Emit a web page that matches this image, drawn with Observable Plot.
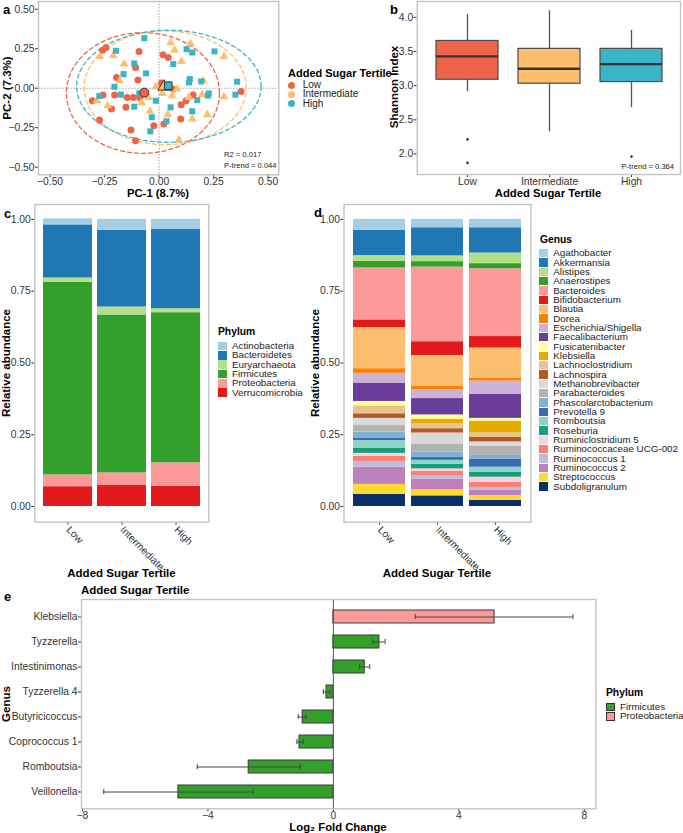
<!DOCTYPE html>
<html><head><meta charset="utf-8">
<script src="https://cdn.jsdelivr.net/npm/d3@7"></script>
<script src="https://cdn.jsdelivr.net/npm/@observablehq/plot@0.6"></script>
<style>
body{margin:0;background:#fff;}
#root{position:relative;width:683px;height:833px;overflow:hidden;font-family:"Liberation Sans",Arial,sans-serif;background:#fff;}
.t{position:absolute;white-space:nowrap;line-height:1;color:#000;}
.t.tight{line-height:0.85;}
.sw{position:absolute;}
</style></head><body><div id="root"></div>
<script>
// ---------- DATA ----------
const groups = ["Low", "Intermediate", "High"];
const groupColors = ["#EF6449", "#FDBF6F", "#3AB5C6"];

// Panel a: PCoA points (PC-1, PC-2)
const lowPts = [[-0.243,0.258],[-0.259,0.241],[-0.092,0.233],[0.018,0.212],[0.042,0.195],[-0.108,0.132],[-0.195,0.068],[-0.097,0.052],[0.011,0.033],[0.063,-0.005],[-0.306,-0.079],[-0.257,-0.043],[-0.204,-0.043],[-0.146,-0.058],[-0.118,-0.058],[-0.088,-0.060],[-0.218,-0.132],[-0.152,-0.121],[-0.273,-0.201],[-0.129,-0.264],[-0.108,-0.332],[-0.024,-0.237],[0.022,-0.226],[0.099,-0.195],[0.101,-0.104],[0.124,-0.079],[0.156,-0.043],[0.376,-0.020]];
const interPts = [[-0.272,0.201],[-0.211,0.207],[-0.161,0.153],[-0.181,0.047],[-0.285,-0.079],[-0.236,-0.111],[-0.080,-0.092],[-0.048,-0.058],[-0.042,-0.146],[-0.015,0.009],[0.053,0.289],[0.144,0.283],[0.071,0.241],[0.102,0.169],[0.297,0.201],[0.025,0.009],[0.083,-0.005],[0.015,-0.033],[0.060,-0.047],[0.198,-0.041],[0.297,-0.054],[0.137,-0.058],[0.040,-0.167],[0.152,-0.195],[0.221,-0.167],[0.091,-0.327],[0.202,0.047]];
const highPts = [[-0.068,0.317],[-0.198,0.237],[-0.114,0.157],[-0.163,0.089],[-0.060,0.094],[-0.205,0.009],[-0.274,-0.049],[-0.175,-0.041],[-0.091,-0.033],[-0.114,-0.117],[-0.015,-0.079],[-0.033,-0.184],[-0.040,-0.273],[0.126,0.247],[0.152,0.226],[0.254,0.233],[0.065,0.153],[0.141,0.058],[0.137,0.037],[0.193,0.043],[0.358,0.041],[0.175,-0.075],[0.228,-0.033],[0.224,-0.047],[0.350,-0.041],[0.053,-0.121],[0.152,-0.146],[0.034,-0.209]];
const centroids = [[-0.068,-0.028],[0.022,0.010],[0.042,0.016]];
// ellipse: centre x, centre y, radius x, radius y
const ellipseParams = [[-0.074,-0.030,0.351,0.382],[0.028,0.003,0.372,0.360],[0.045,0.012,0.423,0.355]];
const pcaTicks = [-0.5,-0.25,0,0.25,0.5];

// Panel b: Shannon index boxplot summary
const bxLo = [2.913, 2.325, 2.680];
const bxQ1 = [3.087, 3.029, 3.053];
const bxMed = [3.430, 3.248, 3.316];
const bxQ3 = [3.655, 3.539, 3.539];
const bxHi = [4.040, 4.097, 3.810];
const outGroup = ["Low", "Low", "High"];
const outValue = [2.214, 1.869, 1.961];
const shannonTicks = [2.0, 2.5, 3.0, 3.5, 4.0];

// Panel c: phylum relative abundance
const phyla = ["Actinobacteria","Bacteroidetes","Euryarchaeota","Firmicutes","Proteobacteria","Verrucomicrobia"];
const phylumColors = ["#A6CEE3","#1F78B4","#B2DF8A","#33A02C","#FB9A99","#E31A1C"];
const phylumLow = [0.021,0.185,0.015,0.671,0.041,0.069];
const phylumInter = [0.038,0.267,0.028,0.550,0.044,0.073];
const phylumHigh = [0.035,0.276,0.014,0.523,0.082,0.070];

// Panel d: genus relative abundance
const genera = ["Agathobacter","Akkermansia","Alistipes","Anaerostipes","Bacteroides","Bifidobacterium","Blautia","Dorea","Escherichia/Shigella","Faecalibacterium","Fusicatenibacter","Klebsiella","Lachnoclostridium","Lachnospira","Methanobrevibacter","Parabacteroides","Phascolarctobacterium","Prevotella 9","Romboutsia","Roseburia","Ruminiclostridium 5","Ruminococcaceae UCG-002","Ruminococcus 1","Ruminococcus 2","Streptococcus","Subdoligranulum"];
const genusColors = ["#A6CEE3","#1F78B4","#B2DF8A","#33A02C","#FB9A99","#E31A1C","#FDBF6F","#FF7F00","#CAB2D6","#6A3D9A","#FFFF99","#E6AB02","#E5C494","#B15928","#D9D9D9","#B3B3B3","#80B1D3","#386CB0","#8DD3C7","#1B9E77","#FCCDE5","#FB8072","#BEBADA","#BC80BD","#FFD92F","#08306B"];
const genusLow = [0.038,0.088,0.020,0.023,0.181,0.027,0.143,0.016,0.034,0.064,0.016,0.003,0.024,0.016,0.025,0.023,0.022,0.007,0.028,0.017,0.010,0.018,0.020,0.060,0.035,0.042];
const genusInter = [0.029,0.098,0.020,0.019,0.260,0.048,0.108,0.011,0.031,0.057,0.016,0.014,0.018,0.015,0.038,0.029,0.018,0.010,0.014,0.016,0.009,0.016,0.011,0.037,0.021,0.037];
const genusHigh = [0.029,0.088,0.037,0.018,0.236,0.040,0.106,0.009,0.046,0.084,0.010,0.041,0.014,0.017,0.016,0.031,0.013,0.028,0.017,0.018,0.018,0.018,0.009,0.019,0.017,0.021];
const abundTicks = [0, 0.25, 0.5, 0.75, 1];

// Panel e: differential abundance
const deGenus = ["Klebsiella","Tyzzerella","Intestinimonas","Tyzzerella 4","Butyricicoccus","Coprococcus 1","Romboutsia","Veillonella"];
const dePhylum = ["Proteobacteria","Firmicutes","Firmicutes","Firmicutes","Firmicutes","Firmicutes","Firmicutes","Firmicutes"];
const deLFC = [5.14, 1.47, 1.00, -0.22, -0.98, -1.08, -2.70, -4.94];
const deLo = [2.61, 1.26, 0.84, -0.32, -1.12, -1.16, -4.34, -7.32];
const deHi = [7.64, 1.65, 1.16, -0.11, -0.87, -0.96, -1.05, -2.56];
const dePhyla = ["Firmicutes","Proteobacteria"];
const dePhylaColors = ["#33A02C","#FB9A99"];
const lfcTicks = [-8,-4,0,4,8];

// ---------- HELPERS ----------
const root = document.getElementById("root");
const FONT = '"Liberation Sans", Arial, sans-serif';
const baseStyle = {background:"transparent", fontFamily:FONT, fontSize:"10.3px", color:"#333", overflow:"visible"};
function place(svg, left, top){ svg.style.position="absolute"; svg.style.left=left+"px"; svg.style.top=top+"px"; root.appendChild(svg); }
function txt(s, x, y, o={}){
  const d=document.createElement("div"); d.className="t"+(o.tight?" tight":"");
  d.textContent=s;
  d.style.fontSize=(o.size||10)+"px";
  if(o.bold) d.style.fontWeight="bold";
  d.style.color=o.color||"#000";
  d.style.left=x+"px"; d.style.top=y+"px";
  const a=o.anchor||"start";
  const tx=a==="start"?"0%":a==="middle"?"-50%":"-100%";
  d.style.transform=`translate(${tx},-50%)`+(o.rotate?` rotate(${o.rotate}deg)`:"");
  root.appendChild(d); return d;
}
function swatch(x,y,w,h,color,stroke){
  const d=document.createElement("div"); d.className="sw";
  d.style.left=x+"px"; d.style.top=(y-h/2)+"px"; d.style.width=w+"px"; d.style.height=h+"px";
  d.style.background=color; d.style.boxSizing="border-box";
  if(stroke) d.style.border="1px solid "+stroke;
  root.appendChild(d);
}

// ---------- PANEL A ----------
const pcaData=[];
[lowPts,interPts,highPts].forEach((pts,i)=>pts.forEach(([x,y])=>pcaData.push({x,y,g:groups[i]})));
const centData=centroids.map(([x,y],i)=>({x,y,g:groups[i]}));
const ellData=[];
ellipseParams.forEach(([cx,cy,rx,ry],i)=>{for(let k=0;k<=144;k++){const t=k/144*2*Math.PI; ellData.push({x:cx+rx*Math.cos(t),y:cy+ry*Math.sin(t),g:groups[i]});}});
const f2=d3.format(".2f");
const pa=Plot.plot({
  width:283,height:200,marginLeft:38,marginRight:4.7,marginTop:1,marginBottom:25.7,
  style:baseStyle,
  x:{domain:[-0.553,0.549],ticks:pcaTicks,tickFormat:f2,label:null,tickSize:3,tickPadding:0},
  y:{domain:[-0.548,0.549],ticks:pcaTicks,tickFormat:f2,label:null,tickSize:3,tickPadding:1},
  color:{domain:groups,range:groupColors},
  marks:[
    Plot.ruleX([0],{stroke:"#aaa",strokeDasharray:"1.5,1.5",strokeWidth:1.1}),
    Plot.ruleY([0],{stroke:"#aaa",strokeDasharray:"1.5,1.5",strokeWidth:1.1}),
    Plot.line(ellData,{x:"x",y:"y",z:"g",stroke:"g",strokeDasharray:"4,3",strokeWidth:1.3}),
    Plot.dot(pcaData.filter(d=>d.g==="Low"),{x:"x",y:"y",fill:"g",r:3.5,symbol:"circle"}),
    Plot.dot(pcaData.filter(d=>d.g==="Intermediate"),{x:"x",y:"y",fill:"g",r:3.3,symbol:"triangle"}),
    Plot.dot(pcaData.filter(d=>d.g==="High"),{x:"x",y:"y",fill:"g",r:3.4,symbol:"square"}),
    Plot.dot(centData.filter(d=>d.g==="Low"),{x:"x",y:"y",fill:"g",r:4.5,symbol:"circle",stroke:"#333",strokeWidth:1}),
    Plot.dot(centData.filter(d=>d.g==="Intermediate"),{x:"x",y:"y",fill:"g",r:4.5,symbol:"triangle",stroke:"#333",strokeWidth:1}),
    Plot.dot(centData.filter(d=>d.g==="High"),{x:"x",y:"y",fill:"g",r:4.3,symbol:"square",stroke:"#333",strokeWidth:1}),
    Plot.frame({stroke:"#c4c4c4",strokeWidth:1.4})
  ]
});
place(pa,0,0);
txt("a",3,9,{size:13,bold:true});
txt("PC-1 (8.7%)",158,194,{size:11.3,bold:true,anchor:"middle"});
txt("PC-2 (7.3%)",8,88,{size:11.5,bold:true,anchor:"middle",rotate:-90});
txt("R2 = 0.017",224,155,{size:7.6,color:"#222",tight:true});
txt("P-trend = 0.044",224,166,{size:7.6,color:"#222",tight:true});
txt("Added Sugar Tertile",288,72.5,{size:11,bold:true});
groups.forEach((g,i)=>{
  const y=85.3+i*9.1;
  const dot=document.createElement("div"); dot.className="sw";
  dot.style.left=(291.7-3.5)+"px"; dot.style.top=(y-3.5)+"px"; dot.style.width="7px"; dot.style.height="7px";
  dot.style.borderRadius="50%"; dot.style.background=groupColors[i]; root.appendChild(dot);
  txt(g,302.7,y,{size:10,color:"#222",tight:true});
});

// ---------- PANEL B ----------
const boxData=groups.map((g,i)=>({g,lo:bxLo[i],q1:bxQ1[i],med:bxMed[i],q3:bxQ3[i],hi:bxHi[i]}));
const outData=outGroup.map((g,i)=>({g,v:outValue[i]}));
const pb=Plot.plot({
  width:343,height:200,marginLeft:76.7,marginRight:3,marginTop:1,marginBottom:26,
  style:baseStyle,
  x:{domain:groups,paddingInner:0.25,paddingOuter:0.225,label:null,tickSize:3,tickPadding:0},
  y:{domain:[1.699,4.233],ticks:shannonTicks,tickFormat:d3.format(".1f"),label:null,tickSize:3,tickPadding:1},
  color:{domain:groups,range:groupColors},
  marks:[
    Plot.ruleX(boxData,{x:"g",y1:"lo",y2:"hi",stroke:"#555",strokeWidth:1.3}),
    Plot.barY(boxData,{x:"g",y1:"q1",y2:"q3",fill:"g",stroke:"#4a4a4a",strokeWidth:1.2}),
    Plot.tickY(boxData,{x:"g",y:"med",stroke:"#333",strokeWidth:2.3}),
    Plot.dot(outData,{x:"g",y:"v",r:1.3,fill:"#333"}),
    Plot.frame({stroke:"#c4c4c4",strokeWidth:1.4})
  ]
});
place(pb,340,0);
txt("b",390,9,{size:13,bold:true});
txt("Shannon Index",395,87,{size:11.5,bold:true,anchor:"middle",rotate:-90});
txt("Added Sugar Tertile",548,194,{size:11.3,bold:true,anchor:"middle"});
txt("P-trend = 0.364",621.5,167,{size:7.6,color:"#222",tight:true});

// ---------- PANEL C ----------
const phyData=[];
const phyVals=[phylumLow,phylumInter,phylumHigh];
groups.forEach((g,gi)=>{for(let k=phyla.length-1;k>=0;k--) phyData.push({g,p:phyla[k],v:phyVals[gi][k]});});
const pc=Plot.plot({
  width:215,height:380,marginLeft:34.3,marginRight:6.7,marginTop:4,marginBottom:58.3,
  style:baseStyle,
  x:{domain:groups,paddingInner:0.1,paddingOuter:0.15,label:null,tickSize:3,tickPadding:3,tickRotate:45},
  y:{domain:[-0.0547,1.052],ticks:abundTicks,tickFormat:f2,label:null,tickSize:3,tickPadding:1},
  color:{domain:phyla,range:phylumColors},
  marks:[
    Plot.barY(phyData,{x:"g",y:"v",fill:"p"}),
    Plot.frame({stroke:"#c4c4c4",strokeWidth:1.4})
  ]
});
place(pc,0,200);
txt("c",4,212.5,{size:13,bold:true});
txt("Relative abundance",7,363,{size:11.5,bold:true,anchor:"middle",rotate:-90});
txt("Added Sugar Tertile",121.5,574,{size:11.5,bold:true,anchor:"middle"});
txt("Phylum",218,332,{size:10.3,bold:true});
phyla.forEach((p,i)=>{const y=346+i*9.33; swatch(218,y,9,8.6,phylumColors[i]); txt(p,232,y,{size:9.8,color:"#222",tight:true});});

// ---------- PANEL D ----------
const genData=[];
const genVals=[genusLow,genusInter,genusHigh];
groups.forEach((g,gi)=>{for(let k=genera.length-1;k>=0;k--) genData.push({g,p:genera[k],v:genVals[gi][k]});});
const pd=Plot.plot({
  width:235,height:380,marginLeft:43.5,marginRight:4.5,marginTop:4,marginBottom:58.3,
  style:baseStyle,
  x:{domain:groups,paddingInner:0.1,paddingOuter:0.15,label:null,tickSize:3,tickPadding:3,tickRotate:45},
  y:{domain:[-0.0547,1.052],ticks:abundTicks,tickFormat:f2,label:null,tickSize:3,tickPadding:1},
  color:{domain:genera,range:genusColors},
  marks:[
    Plot.barY(genData,{x:"g",y:"v",fill:"p"}),
    Plot.frame({stroke:"#c4c4c4",strokeWidth:1.4})
  ]
});
place(pd,300,200);
txt("d",314,212,{size:13,bold:true});
txt("Relative abundance",316,363,{size:11.5,bold:true,anchor:"middle",rotate:-90});
txt("Added Sugar Tertile",437,574,{size:11.5,bold:true,anchor:"middle"});
txt("Genus",540,240,{size:10.3,bold:true});
genera.forEach((p,i)=>{const y=253.3+i*9.33; swatch(539.3,y,8.4,8.4,genusColors[i]); txt(p,553.3,y,{size:9.8,color:"#222",tight:true});});

// ---------- PANEL E ----------
const deData=deGenus.map((g,i)=>({g,p:dePhylum[i],v:deLFC[i],lo:deLo[i],hi:deHi[i]}));
const pe=Plot.plot({
  width:600,height:238,marginLeft:81,marginRight:4.6,marginTop:4,marginBottom:24.7,
  style:baseStyle,
  x:{domain:[-8.03,8.37],ticks:lfcTicks,label:null,tickSize:3,tickPadding:0},
  y:{domain:deGenus,paddingInner:0.5,paddingOuter:0.35,label:null,tickSize:3,tickPadding:1},
  color:{domain:dePhyla,range:dePhylaColors},
  marks:[
    Plot.barX(deData,{x:"v",y:"g",fill:"p",stroke:"#3a3a3a",strokeWidth:1}),
    Plot.ruleX([0],{stroke:"#555",strokeWidth:1}),
    Plot.ruleY(deData,{y:"g",x1:"lo",x2:"hi",stroke:"#444",strokeWidth:1}),
    Plot.tickX(deData,{x:"lo",y:"g",stroke:"#444",strokeWidth:1,insetTop:3.9,insetBottom:3.9}),
    Plot.tickX(deData,{x:"hi",y:"g",stroke:"#444",strokeWidth:1,insetTop:3.9,insetBottom:3.9}),
    Plot.frame({stroke:"#c4c4c4",strokeWidth:1.4})
  ]
});
place(pe,0,595);
txt("e",4,596,{size:13,bold:true});
txt("Added Sugar Tertile",81,591,{size:11.5,bold:true});
txt("Genus",7,704,{size:11.5,bold:true,anchor:"middle",rotate:-90});
txt("Log\u2082 Fold Change",338,828.3,{size:11.3,bold:true,anchor:"middle"});
txt("Phylum",606,693,{size:10.3,bold:true});
dePhyla.forEach((p,i)=>{const y=707+i*9.3; swatch(606,y,9,8.6,dePhylaColors[i],"#333"); txt(p,620,y,{size:9.8,color:"#222",tight:true});});
</script></body></html>
